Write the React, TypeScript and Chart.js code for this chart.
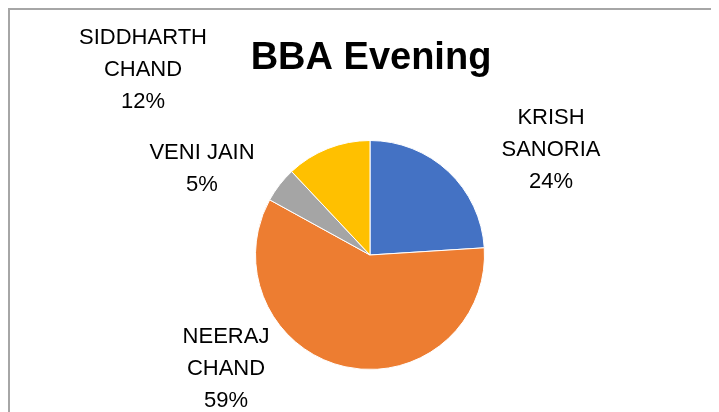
import React, { useEffect, useRef } from "react";
import { Chart, registerables } from "chart.js";

Chart.register(...registerables);

const categories = ["KRISH SANORIA", "NEERAJ CHAND", "VENI JAIN", "SIDDHARTH CHAND"];
const labelLines = [["KRISH", "SANORIA"], ["NEERAJ", "CHAND"], ["VENI JAIN"], ["SIDDHARTH", "CHAND"]];
const values = [24, 59, 5, 12];
const colors = ["#4472C4", "#ED7D31", "#A5A5A5", "#FFC000"];
const chartTitle = "BBA Evening";
// label anchor (centre x, first baseline) relative to pie centre, px — layout only
const labelOffsets = [
  [181, -131],
  [-144, 88],
  [-168, -96],
  [-227, -211],
];

const textPlugin = {
  id: "excelText",
  afterDraw(chart: any) {
    const meta = chart.getDatasetMeta(0);
    if (!meta || !meta.data.length) return;
    const cx = meta.data[0].x;
    const cy = meta.data[0].y;
    const ctx = chart.ctx;
    ctx.save();
    ctx.fillStyle = "#000000";
    ctx.textAlign = "center";
    ctx.textBaseline = "alphabetic";
    ctx.font = "bold 38px 'Liberation Sans', Arial, sans-serif";
    ctx.fillText(chartTitle, cx + 1, 59);
    const total = values.reduce((a, b) => a + b, 0);
    ctx.font = "22px 'Liberation Sans', Arial, sans-serif";
    const lh = 32;
    categories.forEach((_, i) => {
      const lines = [...labelLines[i], Math.round((values[i] / total) * 100) + "%"];
      const [dx, dy] = labelOffsets[i];
      lines.forEach((ln, j) => {
        ctx.fillText(ln, cx + dx, cy + dy + j * lh);
      });
    });
    ctx.restore();
  },
};

export default function App() {
  const ref = useRef<HTMLCanvasElement>(null);
  useEffect(() => {
    if (!ref.current) return;
    const chart = new Chart(ref.current, {
      type: "pie",
      data: {
        labels: categories,
        datasets: [
          {
            data: values,
            backgroundColor: colors,
            borderColor: "#ffffff",
            borderWidth: 1,
          },
        ],
      },
      options: {
        responsive: false,
        animation: false,
        layout: { padding: { left: 245, right: 234, top: 130, bottom: 42 } },
        plugins: {
          legend: { display: false },
          title: { display: false },
          tooltip: { enabled: false },
        },
      },
      plugins: [textPlugin],
    });
    return () => chart.destroy();
  }, []);
  return (
    <div
      style={{
        width: 709,
        height: 402,
        borderTop: "2px solid #a6a6a6",
        borderLeft: "2px solid #a6a6a6",
        background: "#ffffff",
        overflow: "hidden",
      }}
    >
      <canvas ref={ref} width={709} height={402} style={{ display: "block" }} />
    </div>
  );
}
